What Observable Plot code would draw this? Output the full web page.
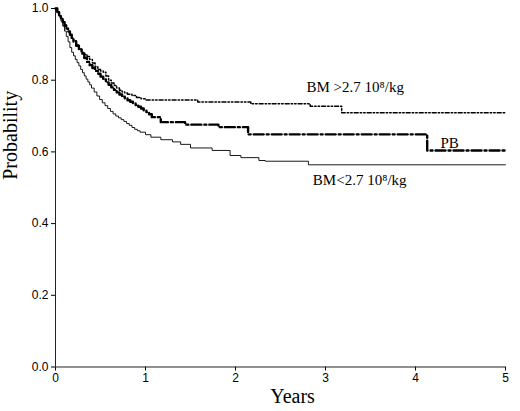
<!DOCTYPE html>
<html>
<head>
<meta charset="utf-8">
<script src="https://cdn.jsdelivr.net/npm/d3@7"></script>
<script src="https://cdn.jsdelivr.net/npm/@observablehq/plot@0.6"></script>
<style>
  body { margin: 0; background: white; }
</style>
</head>
<body>
<div id="chart"></div>
<script>
// tick values
const yearTicks = [0, 1, 2, 3, 4, 5];
const probTicks = [0, 0.2, 0.4, 0.6, 0.8, 1.0];

// BM >2.7 10^8/kg
const highT = [0, 0.02, 0.04, 0.06, 0.08, 0.1, 0.12, 0.14, 0.16, 0.18, 0.2, 0.23, 0.26, 0.29, 0.32, 0.35, 0.38, 0.41, 0.44, 0.47, 0.5, 0.53, 0.56, 0.59, 0.62, 0.65, 0.68, 0.71, 0.74, 0.77, 0.8, 0.85, 0.9, 0.95, 1.0, 1.58, 2.17, 2.83, 3.18, 5];
const highS = [1, 0.99, 0.981, 0.972, 0.963, 0.954, 0.945, 0.936, 0.927, 0.918, 0.91, 0.898, 0.887, 0.877, 0.872, 0.866, 0.858, 0.848, 0.838, 0.83, 0.826, 0.822, 0.812, 0.8, 0.792, 0.785, 0.778, 0.772, 0.767, 0.764, 0.761, 0.757, 0.752, 0.748, 0.745, 0.739, 0.734, 0.727, 0.709, 0.709];

// PB
const pbT = [0, 0.02, 0.04, 0.06, 0.08, 0.1, 0.12, 0.14, 0.16, 0.18, 0.2, 0.23, 0.26, 0.29, 0.32, 0.35, 0.38, 0.41, 0.44, 0.47, 0.5, 0.53, 0.56, 0.59, 0.62, 0.65, 0.68, 0.71, 0.74, 0.77, 0.8, 0.83, 0.86, 0.89, 0.92, 0.95, 0.98, 1.01, 1.04, 1.07, 1.17, 1.44, 1.81, 2.14, 4.13, 5];
const pbS = [1, 0.99, 0.981, 0.972, 0.962, 0.952, 0.944, 0.936, 0.927, 0.918, 0.908, 0.896, 0.885, 0.874, 0.862, 0.851, 0.842, 0.834, 0.826, 0.818, 0.81, 0.802, 0.794, 0.787, 0.78, 0.773, 0.766, 0.76, 0.754, 0.749, 0.744, 0.74, 0.736, 0.731, 0.726, 0.721, 0.716, 0.711, 0.705, 0.697, 0.683, 0.676, 0.669, 0.649, 0.604, 0.604];

// BM <2.7 10^8/kg
const lowT = [0, 0.02, 0.04, 0.06, 0.08, 0.1, 0.12, 0.14, 0.16, 0.18, 0.2, 0.22, 0.24, 0.26, 0.28, 0.3, 0.32, 0.34, 0.36, 0.38, 0.4, 0.43, 0.46, 0.49, 0.52, 0.55, 0.58, 0.61, 0.64, 0.67, 0.7, 0.73, 0.76, 0.79, 0.82, 0.85, 0.88, 0.91, 0.94, 1.0, 1.06, 1.17, 1.3, 1.39, 1.5, 1.74, 1.94, 2.06, 2.26, 2.33, 2.81, 5];
const lowS = [1, 0.99, 0.977, 0.965, 0.951, 0.937, 0.922, 0.907, 0.891, 0.878, 0.868, 0.858, 0.849, 0.84, 0.83, 0.821, 0.812, 0.803, 0.795, 0.787, 0.778, 0.767, 0.756, 0.746, 0.737, 0.729, 0.721, 0.713, 0.706, 0.7, 0.695, 0.69, 0.685, 0.679, 0.674, 0.668, 0.663, 0.659, 0.655, 0.648, 0.641, 0.634, 0.628, 0.621, 0.611, 0.604, 0.59, 0.584, 0.576, 0.574, 0.564, 0.564];

// curve labels
const labelText = ["BM >2.7 10\u2078/kg", "PB", "BM<2.7 10\u2078/kg"];
const labelX = [3.33, 4.38, 3.38];
const labelY = [0.78, 0.623, 0.52];

const toRows = (ts, ss) => ts.map((t, i) => ({t, s: ss[i]}));
const high = toRows(highT, highS);
const pb = toRows(pbT, pbS);
const low = toRows(lowT, lowS);
const labels = labelText.map((text, i) => ({text, x: labelX[i], y: labelY[i]}));

const serif = "Liberation Serif, Times New Roman, serif";

const chart = Plot.plot({
  width: 520,
  height: 411,
  marginLeft: 55,
  marginRight: 15,
  marginTop: 8,
  marginBottom: 44.5,
  style: {fontFamily: "Liberation Sans, Arial, sans-serif", fontSize: "12px", background: "white", color: "black"},
  x: {domain: [0, 5], ticks: yearTicks, tickFormat: d3.format("d"), tickSize: 4, tickPadding: 2, label: null},
  y: {domain: [0, 1], ticks: probTicks, tickFormat: d3.format(".1f"), tickSize: 4, tickPadding: 3, label: null},
  marks: [
    Plot.ruleX([0], {stroke: "#222", strokeWidth: 1}),
    Plot.ruleY([0], {stroke: "#222", strokeWidth: 1}),
    Plot.line(low, {x: "t", y: "s", curve: "step-after", stroke: "black", strokeWidth: 0.9}),
    Plot.line(pb, {x: "t", y: "s", curve: "step-after", stroke: "black", strokeWidth: 2.4, strokeDasharray: "10,3,2,3"}),
    Plot.line(high, {x: "t", y: "s", curve: "step-after", stroke: "black", strokeWidth: 1.5, strokeDasharray: "4,2,1.5,2,1.5,2"}),
    Plot.text(labels, {x: "x", y: "y", text: "text", fontFamily: serif, fontSize: 15, fill: "black"}),
    Plot.text(["Years"], {frameAnchor: "bottom", dy: 36, dx: 12, fontFamily: serif, fontSize: 20, fill: "black"}),
    Plot.text(["Probability"], {frameAnchor: "left", rotate: -90, dx: -45, dy: -8, fontFamily: serif, fontSize: 20, fill: "black"})
  ]
});

d3.select('#chart').append(() => chart);
</script>
</body>
</html>
